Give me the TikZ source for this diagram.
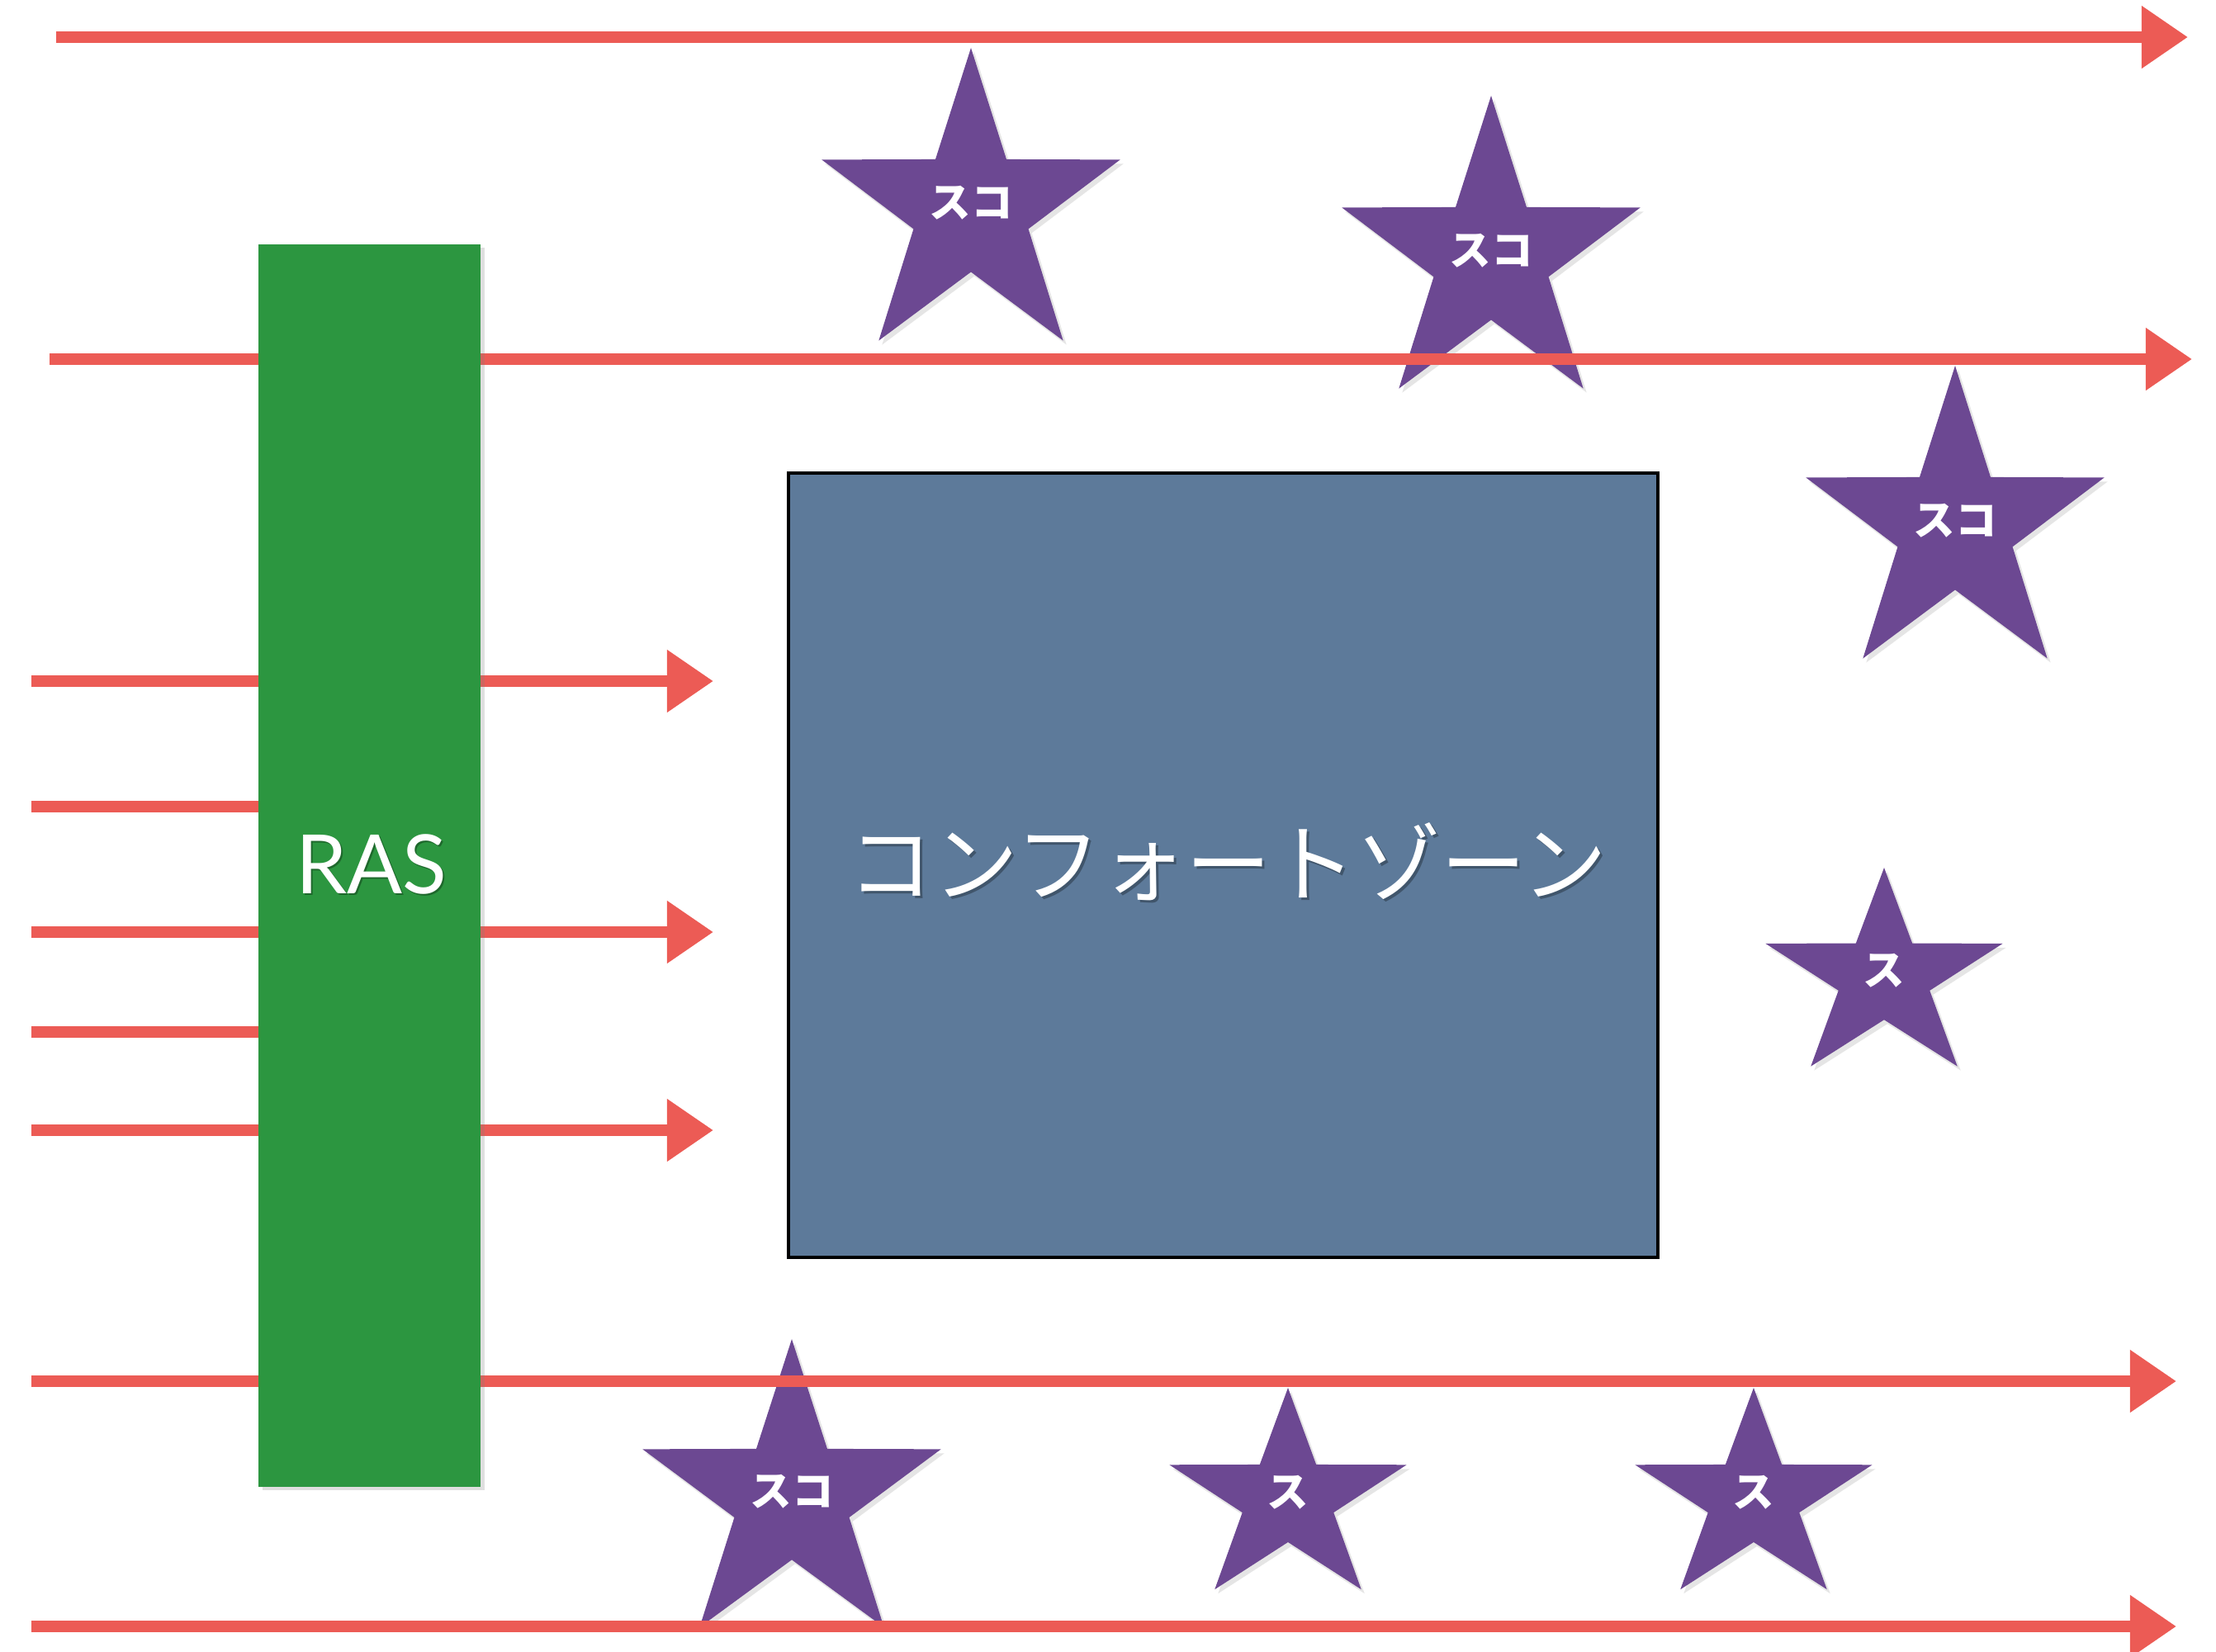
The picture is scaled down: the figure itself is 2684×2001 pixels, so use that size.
\documentclass[tikz,border=0pt]{standalone}
\usepackage{fontspec}
\newfontfamily\jpfont{Noto Sans CJK JP}
\newfontfamily\rasfont{Lato}
\usetikzlibrary{arrows.meta,shadows}
\definecolor{arrowred}{HTML}{EC5B55}
\definecolor{starpurple}{HTML}{6C4892}
\definecolor{rasgreen}{HTML}{2C9640}
\definecolor{zoneblue}{HTML}{5D7A9A}
\tikzset{
  flow/.style={draw=arrowred, line width=0.14cm, -{Triangle[length=0.56cm,width=0.72cm]}},
  starfill/.style={fill=starpurple, drop shadow={shadow xshift=0.04cm, shadow yshift=-0.05cm, opacity=0.2}},
  startext/.style={text=white, font=\jpfont\bfseries\fontsize{14.4pt}{14.4pt}\selectfont, inner sep=0pt},
  rasbox/.style={fill=rasgreen, drop shadow={shadow xshift=0.05cm, shadow yshift=-0.04cm, opacity=0.25}},
  zonebox/.style={fill=zoneblue, draw=black, line width=1.2pt},
  shadowtext/.style={text=black, opacity=0.3, inner sep=0pt},
}
\newcommand\drawstar[6]{%
  \fill[starfill] ({#2},{#3-#5})
    \foreach \a/\f in {126/0.385,162/1,198/0.385,234/1,270/0.385,306/1,342/0.385,378/1,414/0.385}
      { -- ({#2+\f*#4*cos(\a)},{#3-\f*#5*sin(\a)}) } -- cycle;
  \node[startext] (#1) at ({#2},{#3-8}) {#6};
}
\begin{document}
\begin{tikzpicture}[x=0.01cm,y=-0.01cm]
\useasboundingbox (0,0) rectangle (2684,2001);
\fill[white] (0,0) rectangle (2684,2001);

% stars
\drawstar{sA}{1176}{254}{190}{196}{スコ}
\drawstar{sB}{1806}{312}{190}{196}{スコ}
\drawstar{sC}{2368}{639}{190}{196}{スコ}
\drawstar{sD}{2282}{1184}{151}{133}{ス}
\drawstar{sE}{2124}{1816}{151}{135}{ス}
\drawstar{sF}{1560}{1816}{151}{135}{ス}
\drawstar{sG}{959}{1815}{190}{193}{スコ}

% arrow coordinates
\coordinate (a1s) at (68,45);   \coordinate (a1e) at (2650,45);
\coordinate (a2s) at (60,435);  \coordinate (a2e) at (2655,435);
\coordinate (a3s) at (38,825);  \coordinate (a3e) at (864,825);
\coordinate (a4s) at (38,977);  \coordinate (a4e) at (320,977);
\coordinate (a5s) at (38,1129); \coordinate (a5e) at (864,1129);
\coordinate (a6s) at (38,1250); \coordinate (a6e) at (320,1250);
\coordinate (a7s) at (38,1369); \coordinate (a7e) at (864,1369);
\coordinate (a8s) at (38,1673); \coordinate (a8e) at (2636,1673);
\coordinate (a9s) at (38,1970); \coordinate (a9e) at (2636,1970);

\draw[flow] (a1s) -- (a1e);
\draw[flow] (a2s) -- (a2e);
\draw[flow] (a3s) -- (a3e);
\draw[flow,-] (a4s) -- (a4e);
\draw[flow] (a5s) -- (a5e);
\draw[flow,-] (a6s) -- (a6e);
\draw[flow] (a7s) -- (a7e);
\draw[flow] (a8s) -- (a8e);
\draw[flow] (a9s) -- (a9e);

% RAS box
\path[rasbox] (313,296) rectangle (582,1801);
\node[shadowtext, font=\rasfont\fontsize{28.2pt}{28.2pt}\selectfont] at (452,1049) {RAS};
\node[text=white, inner sep=0pt, font=\rasfont\fontsize{28.2pt}{28.2pt}\selectfont] (ras) at (450,1047) {RAS};

% comfort zone box
\path[zonebox] (955,573) rectangle (2008,1523);
\node[shadowtext, font=\jpfont\fontsize{29.3pt}{29.3pt}\selectfont] at (1490,1047) {コンフォートゾーン};
\node[text=white, inner sep=0pt, font=\jpfont\fontsize{29.3pt}{29.3pt}\selectfont] (zone) at (1487,1044) {コンフォートゾーン};
\end{tikzpicture}
\end{document}
